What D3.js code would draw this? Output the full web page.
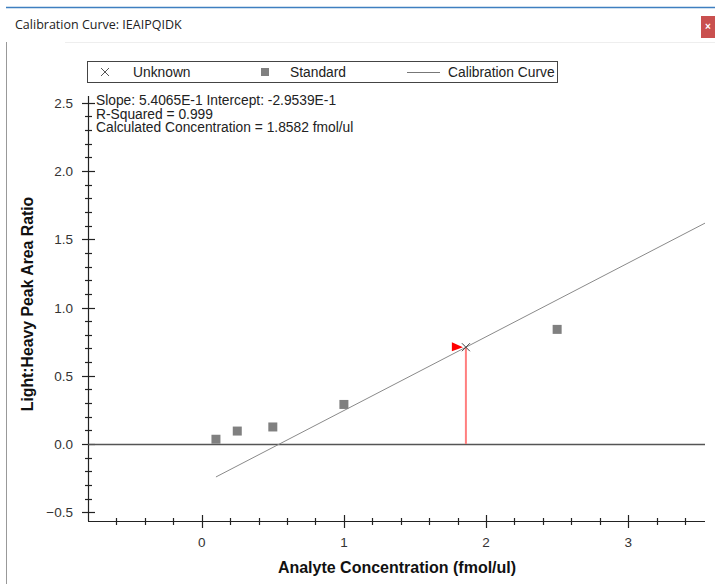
<!DOCTYPE html>
<html><head><meta charset="utf-8">
<script src="https://cdn.jsdelivr.net/npm/d3@7"></script>
<style>
html,body{margin:0;padding:0;background:#fff;}
svg{display:block;}
</style></head>
<body>
<svg id="c" width="715" height="584"></svg>
<script>
const title = "Calibration Curve: IEAIPQIDK";
const stdX = [0.1, 0.25, 0.5, 1.0, 2.5];
const stdY = [0.035, 0.095, 0.125, 0.29, 0.84];
const slope = 0.54065;
const intercept = -0.29539;
const unknownX = [1.8582];
const xTicks = [0, 1, 2, 3];
const yTicks = [-0.5, 0.0, 0.5, 1.0, 1.5, 2.0, 2.5];
const annotations = ["Slope: 5.4065E-1 Intercept: -2.9539E-1", "R-Squared = 0.999", "Calculated Concentration = 1.8582 fmol/ul"];
const legendItems = ["Unknown", "Standard", "Calibration Curve"];

const svg = d3.select("#c");
const font = "'Liberation Sans', Arial, sans-serif";

// window chrome
svg.append("line").attr("x1",6).attr("x2",715).attr("y1",7.5).attr("y2",7.5).attr("stroke","#3f7fc0").attr("stroke-width",1.5);
svg.append("text").attr("x",15).attr("y",29).attr("font-family","'Segoe UI','Open Sans',sans-serif").attr("font-size",12.5).attr("fill","#222").text(title);
svg.append("rect").attr("x",701).attr("y",16).attr("width",14).attr("height",22).attr("fill","#c9504f");
svg.append("text").attr("x",708).attr("y",30).attr("text-anchor","middle").attr("font-family",font).attr("font-size",10).attr("fill","#fff").attr("font-weight","bold").text("×");
svg.append("line").attr("x1",6.5).attr("x2",6.5).attr("y1",42).attr("y2",584).attr("stroke","#999").attr("stroke-width",1);
svg.append("line").attr("x1",65).attr("x2",715).attr("y1",42.5).attr("y2",42.5).attr("stroke","#eee").attr("stroke-width",1);

const x = d3.scaleLinear().domain([-0.8, 3.54]).range([88, 705]);
const y = d3.scaleLinear().domain([-0.564, 2.55]).range([521, 96]);

// Axes
const ax = svg.append("g").attr("stroke","#222").attr("fill","none");
ax.append("line").attr("x1",x.range()[0]).attr("x2",x.range()[1]).attr("y1",521.5).attr("y2",521.5).attr("stroke-width",1.2);
ax.append("line").attr("x1",88.5).attr("x2",88.5).attr("y1",y.range()[0]).attr("y2",y.range()[1]).attr("stroke-width",1.2);

const xMinor = d3.range(-0.8, 3.55, 0.2).map(v=>+v.toFixed(2)).filter(v=>!xTicks.includes(v) && v> -0.79);
xMinor.forEach(v=>{ const px=Math.round(x(v))+0.5; ax.append("line").attr("x1",px).attr("x2",px).attr("y1",518).attr("y2",525).attr("stroke-width",1.2);});
xTicks.forEach(v=>{ const px=Math.round(x(v))+0.5; ax.append("line").attr("x1",px).attr("x2",px).attr("y1",515).attr("y2",528).attr("stroke-width",1.2);});
const yMinor = d3.range(-0.5, 2.56, 0.1).map(v=>+v.toFixed(2)).filter(v=>!yTicks.includes(v));
yMinor.forEach(v=>{ const py=Math.round(y(v))+0.5; ax.append("line").attr("x1",85).attr("x2",92).attr("y1",py).attr("y2",py).attr("stroke-width",1.2);});
yTicks.forEach(v=>{ const py=Math.round(y(v))+0.5; ax.append("line").attr("x1",82).attr("x2",95).attr("y1",py).attr("y2",py).attr("stroke-width",1.2);});

svg.selectAll(".xl").data(xTicks).enter().append("text")
  .attr("x",d=>x(d)).attr("y",547).attr("text-anchor","middle")
  .attr("font-family",font).attr("font-size",13.5).attr("fill","#333").text(d=>d3.format("d")(d));
svg.selectAll(".yl").data(yTicks).enter().append("text")
  .attr("x",73).attr("y",d=>y(d)+5).attr("text-anchor","end")
  .attr("font-family",font).attr("font-size",13.5).attr("fill","#333").text(d=>d3.format(".1f")(d));

// axis titles
svg.append("text").attr("x",397).attr("y",573).attr("text-anchor","middle").attr("font-family",font)
  .attr("font-size",16).attr("font-weight","bold").attr("fill","#111").text("Analyte Concentration (fmol/ul)");
svg.append("text").attr("transform","translate(33,304) rotate(-90)").attr("text-anchor","middle").attr("font-family",font)
  .attr("font-size",15.8).attr("font-weight","bold").attr("fill","#111").text("Light:Heavy Peak Area Ratio");

// zero line
svg.append("line").attr("x1",x.range()[0]).attr("x2",x.range()[1]).attr("y1",Math.round(y(0))+0.5).attr("y2",Math.round(y(0))+0.5)
  .attr("stroke","#555").attr("stroke-width",1.5);

// calibration line
const x0 = d3.min(stdX), x1 = x.domain()[1];
svg.append("line").attr("x1",x(x0)).attr("y1",y(slope*x0+intercept)).attr("x2",x(x1)).attr("y2",y(slope*x1+intercept))
  .attr("stroke","#8a8a8a").attr("stroke-width",1);

// standards
svg.selectAll(".std").data(stdX).enter().append("rect")
  .attr("x",d=>x(d)-4.5).attr("y",(d,i)=>y(stdY[i])-4.5).attr("width",9).attr("height",9).attr("fill","#808080");

// unknown
unknownX.forEach(u=>{
  const ux=x(u), uy=y(slope*u+intercept);
  svg.append("line").attr("x1",ux).attr("x2",ux).attr("y1",y(0)).attr("y2",uy).attr("stroke","#ff7f7f").attr("stroke-width",2);
  svg.append("path").attr("d",`M${ux-14},${uy-5}L${ux-3},${uy}L${ux-14},${uy+4}Z`).attr("fill","#ff0000");
  svg.append("path").attr("d",`M${ux-4},${uy-4}L${ux+4},${uy+4}M${ux-4},${uy+4}L${ux+4},${uy-4}`).attr("stroke","#444").attr("stroke-width",1);
});

// annotations
svg.selectAll(".ann").data(annotations).enter().append("text")
  .attr("x",96).attr("y",(d,i)=>105+i*13.5).attr("font-family",font).attr("font-size",13.8).attr("fill","#222").text(d=>d);

// legend
const lg = svg.append("g");
lg.append("rect").attr("x",87.5).attr("y",61.5).attr("width",470).attr("height",21).attr("fill","#fff").attr("stroke","#444").attr("stroke-width",1);
lg.append("path").attr("d","M101,68L109,76M101,76L109,68").attr("stroke","#555").attr("stroke-width",1);
lg.append("rect").attr("x",261).attr("y",68).attr("width",8).attr("height",8).attr("fill","#808080");
lg.append("line").attr("x1",407).attr("x2",440).attr("y1",72.5).attr("y2",72.5).attr("stroke","#777").attr("stroke-width",1);
const lx=[133,290,448];
legendItems.forEach((t,i)=>lg.append("text").attr("x",lx[i]).attr("y",77).attr("font-family",font).attr("font-size",13.8).attr("fill","#222").text(t));
</script>
</body></html>
